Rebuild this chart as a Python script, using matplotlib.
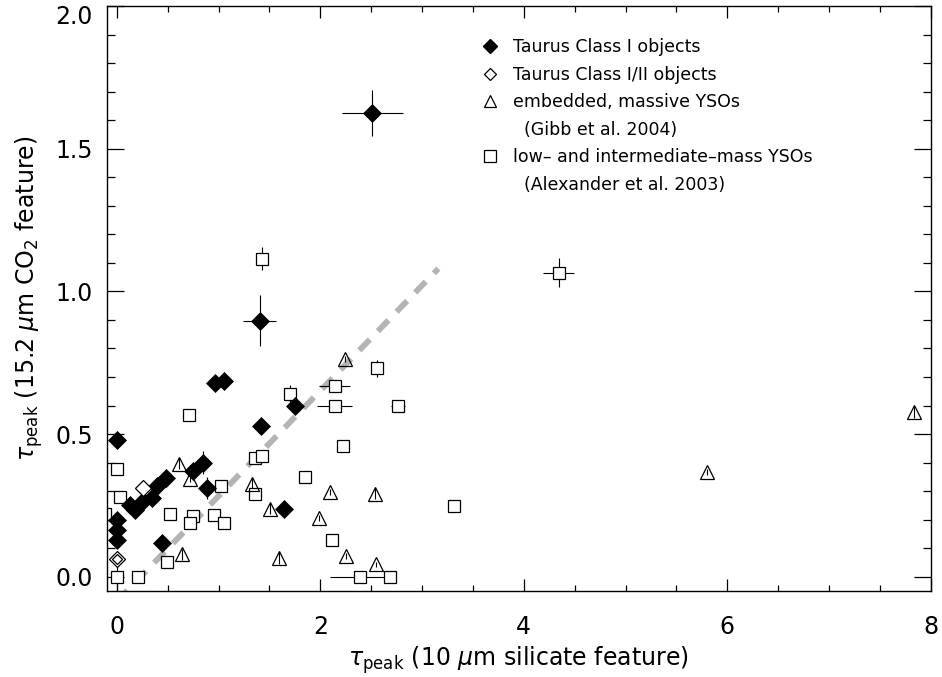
import matplotlib
matplotlib.use("Agg")
import matplotlib.pyplot as plt
import matplotlib.transforms as mtransforms
import numpy as np
from matplotlib.lines import Line2D

# Taurus Class I objects (filled diamonds)
cls1_x = [0.0, 0.0, 0.0, 0.0, 0.13, 0.18, 0.26, 0.345, 0.39, 0.48, 0.44, 0.75, 0.85, 0.885,
          0.968, 1.049, 1.403, 1.417, 1.64, 1.754, 2.508]
cls1_y = [0.48, 0.20, 0.165, 0.13, 0.253, 0.235, 0.264, 0.276, 0.317, 0.346, 0.119, 0.37, 0.40, 0.311,
          0.678, 0.686, 0.897, 0.527, 0.239, 0.599, 1.626]
cls1_xerr = [0, 0, 0, 0, 0, 0, 0, 0, 0, 0, 0, 0, 0, 0, 0, 0, 0.16, 0, 0, 0, 0.30]
cls1_yerr = [0, 0, 0, 0, 0, 0, 0, 0, 0.02, 0.02, 0, 0.03, 0.04, 0.04, 0, 0, 0.09, 0, 0, 0, 0.08]

# Taurus Class I/II objects (open diamonds)
cls12_x = [0.26, 0.0]
cls12_y = [0.311, 0.062]

# Gibb et al. 2004 (triangles)
gibb_x = [0.61, 0.72, 0.64, 1.328, 1.508, 1.59, 1.983, 2.098, 2.239, 2.256, 2.541, 2.55, 5.80, 7.84]
gibb_y = [0.396, 0.343, 0.078, 0.326, 0.239, 0.066, 0.206, 0.297, 0.762, 0.072, 0.291, 0.043, 0.366, 0.577]
gibb_yerr = [0.02, 0.01, 0.02, 0.02, 0.02, 0.02, 0.01, 0.01, 0.01, 0.01, 0.02, 0.01, 0.01, 0.02]

# Alexander et al. 2003 (squares)
alex_x = [0.0, 0.03, -0.12, 0.0, 0.21, 0.49, 0.525, 0.712, 0.745, 0.72, 0.95, 1.05, 1.02, 1.361, 1.427,
          1.361, 1.427, 1.705, 1.846, 2.14, 2.14, 2.223, 2.557, 2.764, 2.115, 2.39, 2.68, 3.31, 4.343]
alex_y = [0.378, 0.28, 0.22, 0.0, 0.0, 0.051, 0.22, 0.568, 0.212, 0.189, 0.218, 0.189, 0.319, 0.416, 0.422,
          0.29, 1.115, 0.641, 0.35, 0.669, 0.599, 0.459, 0.731, 0.599, 0.13, 0.0, 0.0, 0.249, 1.066]
alex_xerr = [0, 0, 0, 0.05, 0, 0, 0, 0, 0.05, 0.05, 0, 0.03, 0, 0.06, 0.06, 0.03, 0, 0.06, 0.06, 0.15, 0.17,
             0.06, 0.06, 0.07, 0.06, 0.30, 0.04, 0.06, 0.15]
alex_yerr = [0.015, 0.015, 0, 0.05, 0, 0, 0.01, 0.02, 0.02, 0.02, 0.01, 0.01, 0.02, 0.02, 0.02, 0.02, 0.04, 0.03,
             0.02, 0.02, 0.02, 0.02, 0.03, 0.02, 0.02, 0.0, 0.0, 0.01, 0.05]

# dashed grey line
line_x = [0.0, 3.16]
line_y = [-0.086, 1.08]

plt.rcParams['mathtext.fontset'] = 'dejavusans'
fig = plt.figure(figsize=(9.42, 6.77), dpi=100)
ax = fig.add_axes([0.1133, 0.127, 0.8747, 0.8641])

ax.plot(line_x, line_y, color='#b4b4b4', lw=4.2, dashes=(2.6, 2.0), solid_capstyle='butt',
        dash_capstyle='butt', zorder=1)

ekw = dict(ecolor='black', elinewidth=0.8, capsize=0, ls='none', zorder=2)
ax.errorbar(alex_x, alex_y, xerr=alex_xerr, yerr=alex_yerr, marker='s', ms=8.6, mfc='white',
            mec='black', mew=0.9, **ekw)
ax.errorbar(gibb_x, gibb_y, yerr=gibb_yerr, marker='^', ms=10.2, mfc='none',
            mec='black', mew=0.9, **ekw)
ax.errorbar(cls1_x, cls1_y, xerr=cls1_xerr, yerr=cls1_yerr, marker='D', ms=9.6, mfc='black',
            mec='black', mew=0.5, **ekw)
ax.plot(cls12_x, cls12_y, ls='none', marker='D', ms=8.0, mfc='white', mec='black', mew=0.9, zorder=3)
ax.plot(cls12_x[1:], cls12_y[1:], ls='none', marker='D', ms=5.2, mfc='none', mec='black', mew=0.9, zorder=3)

ax.set_xlim(-0.1, 8.0)
ax.set_ylim(-0.05, 2.0)
ax.set_xticks([0, 2, 4, 6, 8])
ax.set_xticks(np.arange(0, 8.01, 0.5), minor=True)
ax.set_yticks([0.0, 0.5, 1.0, 1.5, 2.0])
ax.set_yticks(np.arange(0, 2.01, 0.1), minor=True)
ax.set_yticklabels(['0.0', '0.5', '1.0', '1.5', '2.0'])
ax.tick_params(axis='both', which='both', direction='in', top=True, right=True,
               labelsize=17, width=0.9, colors='black')
ax.tick_params(axis='x', which='major', length=8.4, pad=17)
ax.tick_params(axis='x', which='minor', length=4.2)
ax.tick_params(axis='y', which='major', length=11.9, pad=10)
ax.tick_params(axis='y', which='minor', length=5.9)
for s in ax.spines.values():
    s.set_linewidth(1.0)

# keep the top y label inside the figure
top_lab = ax.get_yticklabels()[-1]
top_lab.set_transform(top_lab.get_transform() +
                      mtransforms.ScaledTranslation(0, -6 / 72, fig.dpi_scale_trans))

ax.set_xlabel(r'$\tau_{\rm peak}$ (10 $\mu$m silicate feature)', fontsize=17, labelpad=4)
ax.set_ylabel(r'$\tau_{\rm peak}$ (15.2 $\mu$m CO$_2$ feature)', fontsize=17, labelpad=7)

blank = Line2D([], [], ls='none', marker='none')
handles = [
    Line2D([], [], ls='none', marker='D', ms=7, mfc='black', mec='black'),
    Line2D([], [], ls='none', marker='D', ms=6.5, mfc='white', mec='black', mew=0.9),
    Line2D([], [], ls='none', marker='^', ms=9, mfc='white', mec='black', mew=0.9),
    blank,
    Line2D([], [], ls='none', marker='s', ms=8, mfc='white', mec='black', mew=0.9),
    blank,
]
labels = ['Taurus Class I objects', 'Taurus Class I/II objects', 'embedded, massive YSOs',
          '  (Gibb et al. 2004)', 'low\u2013 and intermediate\u2013mass YSOs', '  (Alexander et al. 2003)']
ax.legend(handles, labels, loc='upper left', bbox_to_anchor=(0.455, 0.945), frameon=False,
          fontsize=12.5, handlelength=1.0, handletextpad=0.8, labelspacing=0.55, borderpad=0,
          borderaxespad=0)

fig.savefig('out.png', dpi=100)
